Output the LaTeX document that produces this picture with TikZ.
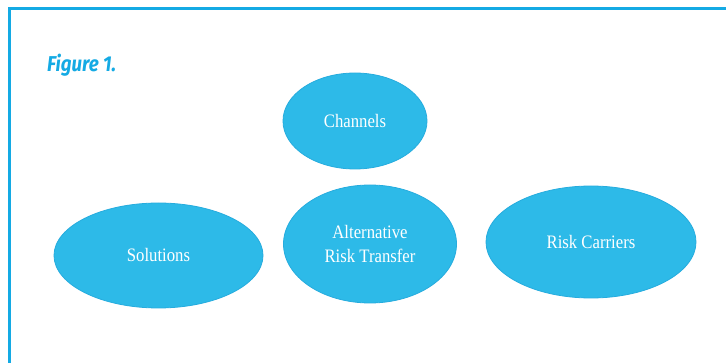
\documentclass[tikz,border=0pt]{standalone}
\usepackage{fontspec}
\setmainfont{Liberation Serif}
\newfontfamily\figfont[FakeStretch=0.87]{Fira Sans}
\newfontfamily\ellfont[FakeStretch=0.88]{Liberation Serif}
\usetikzlibrary{shapes.geometric}
\definecolor{ellfill}{RGB}{45,186,232}
\definecolor{elledge}{RGB}{38,172,222}
\definecolor{framecol}{RGB}{20,170,228}
\tikzset{
  bubble/.style={ellipse, fill=ellfill, draw=elledge, line width=0.8pt, inner sep=0pt,
    text=white, font=\ellfont\fontsize{19}{24}\selectfont, align=center},
}
\begin{document}
\begin{tikzpicture}[x=1pt,y=-1pt]
\useasboundingbox (0,0) rectangle (726,363);
\clip (0,0) rectangle (726,363);
\fill[white] (0,0) rectangle (726,363);
\draw[framecol, line width=3pt] (9.5,8.5) rectangle (760,400);
\node[anchor=base west, text=framecol, font=\figfont\bfseries\itshape\fontsize{21.5}{24}\selectfont, inner sep=0pt] (fig) at (47,72) {Figure 1.};
\node[bubble, minimum width=144pt, minimum height=96pt] (channels) at (355,121) {Channels};
\node[bubble, minimum width=209pt, minimum height=105pt] (solutions) at (158.5,255.5) {Solutions};
\node[bubble, minimum width=173pt, minimum height=118pt] (art) at (370,244) {Alternative\\Risk Transfer};
\node[bubble, minimum width=210pt, minimum height=112pt] (carriers) at (591,242) {Risk Carriers};
\end{tikzpicture}
\end{document}
